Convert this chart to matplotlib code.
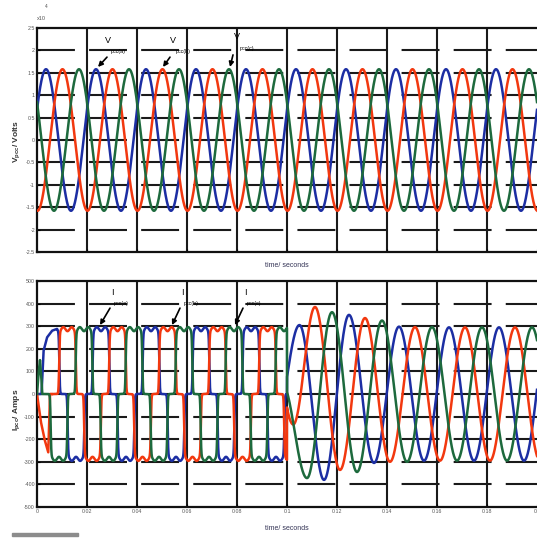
import numpy as np
import matplotlib.pyplot as plt
from matplotlib.patches import Rectangle

plt.rcParams['font.family'] = ['Liberation Sans', 'DejaVu Sans']

# supply and simulation window
FREQ = 50.0
PERIOD = 1.0 / FREQ
T_END = 0.2
T_SWITCH = 0.1

# pcc voltages (x10^4 V): peak and time of first positive peak per phase a, b, c
v_peak = 1.58
v_peak_time = [0.0036, 0.0102, 0.0168]

# pcc currents before t = 0.1 s: 120 degree blocks with ripple on top
i_block_level = 287
i_block_ripple = 9
i_block_centre = [0.0056, 0.0122, 0.0188]

# start-up of each phase current (time, amps)
i_start_t = [
    [0.0, 0.0018, 0.0026, 0.0040, 0.0060, 0.0080],
    [0.0, 0.0015, 0.0030, 0.0045, 0.0052, 0.0062],
    [0.0, 0.0006, 0.0012, 0.0017, 0.0021, 0.0035],
]
i_start = [
    [0, 0, 190, 250, 280, 288],
    [0, -120, -200, -258, 0, 0],
    [0, 90, 150, 80, 0, 0],
]

# pcc currents after t = 0.1 s: successive peaks and troughs (time, amps)
i_ext_t = [
    [0.0950, 0.1050, 0.1148, 0.1248, 0.1348, 0.1448, 0.1548, 0.1648, 0.1748, 0.1848, 0.1948, 0.2048],
    [0.0925, 0.1025, 0.1112, 0.1212, 0.1312, 0.1412, 0.1512, 0.1612, 0.1712, 0.1812, 0.1912, 0.2012],
    [0.0980, 0.1080, 0.1180, 0.1280, 0.1380, 0.1480, 0.1580, 0.1680, 0.1780, 0.1880, 0.1980, 0.2080],
]
i_ext = [
    [-156, 305, -380, 350, -305, 298, -295, 295, -295, 295, -295, 295],
    [379, -135, 385, -336, 336, -300, 296, -295, 295, -295, 295, -295],
    [50, -372, 362, -345, 325, -300, 296, -295, 295, -295, 295, -295],
]

phase_colors = ['#1c2ea3', '#f2380f', '#1d6a3d']
phase_names = ['a', 'b', 'c']

v_ticks = [-2.5, -2, -1.5, -1, -0.5, 0, 0.5, 1, 1.5, 2, 2.5]
i_ticks = [-500, -400, -300, -200, -100, 0, 100, 200, 300, 400, 500]
t_ticks = [0, 0.02, 0.04, 0.06, 0.08, 0.1, 0.12, 0.14, 0.16, 0.18, 0.2]

t = np.linspace(0, T_END, 8001)
w = 2 * np.pi * FREQ


def soft_step(x, width=0.00025):
    return 0.5 * (1 + np.tanh(x / width))


def block_wave(t, centre):
    # quasi-square current: +block around centre, -block half a cycle later
    tau = (t - centre + PERIOD / 2) % PERIOD - PERIOD / 2
    tau_n = (t - centre) % PERIOD - PERIOD / 2
    level = i_block_level - i_block_ripple * np.cos(6 * w * tau)
    pos = soft_step(PERIOD / 6 - np.abs(tau))
    neg = soft_step(PERIOD / 6 - np.abs(tau_n))
    return level * (pos - neg)


def through_extrema(t, times, values):
    # half-cosine swing between consecutive peaks
    times = np.asarray(times)
    values = np.asarray(values, dtype=float)
    k = np.clip(np.searchsorted(times, t) - 1, 0, len(times) - 2)
    frac = (t - times[k]) / (times[k + 1] - times[k])
    return values[k] + (values[k + 1] - values[k]) * (1 - np.cos(np.pi * frac)) / 2


fig = plt.figure(figsize=(5.37, 5.38), dpi=100)
ax_v = fig.add_axes([37 / 537, 1 - 252 / 538, 500 / 537, 224 / 538])
ax_i = fig.add_axes([37 / 537, 1 - 507 / 538, 500 / 537, 226 / 538])


def style_axes(ax, yticks, ylim):
    ax.set_xlim(0, T_END)
    ax.set_ylim(*ylim)
    ax.set_xticks(t_ticks)
    ax.set_yticks(yticks)
    ax.set_yticklabels(['%g' % v for v in yticks])
    ax.tick_params(direction='in', length=2, width=0.8, labelsize=3.8,
                   labelcolor='#555555', pad=1.5)
    for s in ['left', 'top', 'bottom']:
        ax.spines[s].set_linewidth(1.6)
        ax.spines[s].set_color('#111111')
    ax.spines['right'].set_visible(False)
    # grid: solid verticals, long dashes for horizontals
    for x in t_ticks[1:-1]:
        ax.axvline(x, color='#1a1a1a', lw=1.5, zorder=1)
    for y in yticks[1:-1]:
        ax.axhline(y, color='#1a1a1a', lw=1.5, zorder=1,
                   linestyle=(0, (18.2, 6.8)))


style_axes(ax_v, v_ticks, (-2.5, 2.5))
style_axes(ax_i, i_ticks, (-500, 500))
ax_v.set_xticklabels([])
ax_i.set_xticklabels(['%g' % v for v in t_ticks])

# voltages
for k in range(3):
    v = v_peak * np.cos(w * (t - v_peak_time[k]))
    ax_v.plot(t, v, color=phase_colors[k], lw=1.8, zorder=3)

# currents
for k in range(3):
    cur = block_wave(t, i_block_centre[k])
    early = t < i_start_t[k][-1]
    cur[early] = np.interp(t[early], i_start_t[k], i_start[k])
    late = t >= T_SWITCH
    cur[late] = through_extrema(t[late], i_ext_t[k], i_ext[k])
    ax_i.plot(t, cur, color=phase_colors[k], lw=1.8, zorder=3)

# phase labels with arrows
v_label_pos = [(0.0284, 2.23), (0.0544, 2.23), (0.0800, 2.30)]
v_arrow = [((0.0280, 1.85), (0.0244, 1.63)),
           ((0.0532, 1.85), (0.0504, 1.63)),
           ((0.0784, 1.90), (0.0772, 1.63))]
i_label_pos = [(0.0300, 447), (0.0580, 447), (0.0832, 447)]
i_arrow = [((0.0292, 380), (0.0252, 305)),
           ((0.0572, 380), (0.0540, 305)),
           ((0.0824, 380), (0.0792, 305))]

for k in range(3):
    x, y = v_label_pos[k]
    ax_v.text(x, y, 'V', fontsize=6.5, ha='center', va='center', zorder=5)
    ax_v.text(x + 0.0012, y - 0.25, 'pcc(%s)' % phase_names[k], fontsize=3.8,
              ha='left', va='center', zorder=5)
    (x0, y0), (x1, y1) = v_arrow[k]
    ax_v.annotate('', xy=(x1, y1), xytext=(x0, y0), zorder=5,
                  arrowprops=dict(arrowstyle='-|>', color='black', lw=1.2,
                                  mutation_scale=7, shrinkA=0, shrinkB=0))

    x, y = i_label_pos[k]
    ax_i.text(x, y, 'I', fontsize=6.5, ha='center', va='center', zorder=5)
    ax_i.text(x + 0.0008, y - 45, 'pcc(%s)' % phase_names[k], fontsize=3.8,
              ha='left', va='center', zorder=5)
    (x0, y0), (x1, y1) = i_arrow[k]
    ax_i.annotate('', xy=(x1, y1), xytext=(x0, y0), zorder=5,
                  arrowprops=dict(arrowstyle='-|>', color='black', lw=1.2,
                                  mutation_scale=7, shrinkA=0, shrinkB=0))

# axis titles
fig.text(17 / 537, 1 - 142 / 538, r'V$_{\mathregular{pcc}}$/ Volts', rotation=90,
         fontsize=6, fontweight='bold', ha='center', va='center', color='#333333')
fig.text(17 / 537, 1 - 410 / 538, r'I$_{\mathregular{pcc}}$/ Amps', rotation=90,
         fontsize=6, fontweight='bold', ha='center', va='center', color='#333333')
fig.text(287 / 537, 1 - 266 / 538, 'time/ seconds', fontsize=5, ha='center',
         va='center', color='#333355')
fig.text(287 / 537, 1 - 529 / 538, 'time/ seconds', fontsize=5, ha='center',
         va='center', color='#333355')
fig.text(41 / 537, 1 - 18 / 538, 'x10', fontsize=4, ha='center', va='center',
         color='#555555')
fig.text(46 / 537, 1 - 6 / 538, '4', fontsize=3.5, ha='center', va='center',
         color='#555555')

fig.patches.append(Rectangle((12 / 537, 2 / 538), 66 / 537, 3 / 538,
                             transform=fig.transFigure, color='#8c8c8c'))

fig.savefig('out.png', dpi=100)
